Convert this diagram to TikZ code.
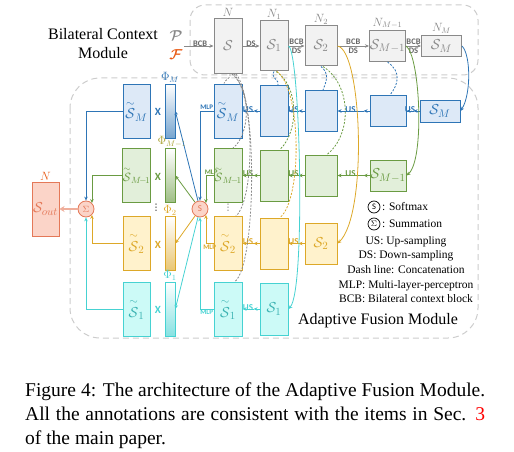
\documentclass[tikz,border=0pt]{standalone}
\usepackage{amsmath, amssymb}
\usepackage{fontspec}
\setmainfont{Liberation Serif}
\newfontfamily\lblfont{Carlito}
\newfontfamily\symfont{DejaVu Sans}
\usepackage{xcolor}
\usepackage{tikz}
\usetikzlibrary{positioning, arrows.meta, calc}
\definecolor{afblue}{RGB}{46,117,182}
\definecolor{afbluefill}{RGB}{221,233,247}
\definecolor{afgreen}{RGB}{106,155,66}
\definecolor{afgreenfill}{RGB}{226,239,218}
\definecolor{afyellow}{RGB}{221,168,40}
\definecolor{afyellowfill}{RGB}{255,242,204}
\definecolor{afcyan}{RGB}{70,210,210}
\definecolor{afcyanfill}{RGB}{204,250,247}
\definecolor{afgray}{RGB}{137,137,137}
\definecolor{afgrayfill}{RGB}{242,242,242}
\definecolor{afsalmon}{RGB}{228,120,88}
\definecolor{afsalmonfill}{RGB}{251,212,200}
\definecolor{aforange}{RGB}{232,90,20}
\newcommand{\tS}{\overset{\scriptstyle\sim}{\mathcal{S}}}
\tikzset{
  blk/.style={draw, line width=1pt, inner sep=0pt, font=\fontsize{15}{15}\selectfont},
  kbox/.style={blk, draw=afgray, fill=afgrayfill, text=afgray},
  bbox/.style={blk, draw=afblue, fill=afbluefill, text=afblue},
  gbox/.style={blk, draw=afgreen, fill=afgreenfill, text=afgreen},
  ybox/.style={blk, draw=afyellow, fill=afyellowfill, text=afyellow},
  cbox/.style={blk, draw=afcyan, fill=afcyanfill, text=afcyan!85!black},
  sbox/.style={blk, draw=afsalmon, fill=afsalmonfill, text=afsalmon},
  small/.style={font=\fontsize{12.5}{12.5}\selectfont},
  phibar/.style={draw=#1, line width=0.6pt, top color=white, bottom color=#1!65,
    minimum width=10, minimum height=54, inner sep=0pt},
  op/.style={circle, draw=afsalmon, fill=afsalmonfill, line width=0.8pt, minimum size=16,
    inner sep=0pt, text=afsalmon, font=\lblfont\fontsize{9}{9}\selectfont},
  legop/.style={circle, draw=black, line width=0.7pt, minimum size=12, inner sep=0pt,
    font=\lblfont\fontsize{8.5}{8.5}\selectfont},
  tag/.style={font=\lblfont\bfseries\fontsize{9}{9}\selectfont, inner sep=0.5pt},
  ttag/.style={tag, font=\lblfont\bfseries\fontsize{8.5}{8.5}\selectfont, text=black!60},
  mlp/.style={font=\lblfont\bfseries\fontsize{7}{7}\selectfont, inner sep=1pt},
  xlab/.style={font=\lblfont\bfseries\fontsize{11}{11}\selectfont, inner sep=0pt},
  nlab/.style={text=afgray, font=\fontsize{12}{12}\selectfont, inner sep=1pt},
  philab/.style={font=\fontsize{11.5}{11.5}\selectfont, inner sep=1pt},
  vdot/.style={inner sep=0pt, font=\symfont\fontsize{9}{9}\selectfont},
  legtxt/.style={font=\fontsize{11.5}{14.7}\selectfont, inner sep=0pt},
  conn/.style={line width=0.8pt, -{Stealth[length=4pt, width=3.5pt]}},
  cat/.style={line width=0.8pt, dash pattern=on 2pt off 1.5pt},
  frame/.style={draw=black!20, line width=1pt, dash pattern=on 6pt off 4pt},
}
\begin{document}
\begin{tikzpicture}[x=1pt, y=-1pt]
\useasboundingbox (0,0) rectangle (514,452);

% module frames
\draw[frame, rounded corners=15] (190,5) rectangle (478,75);
\draw[frame, rounded corners=30] (70,78) rectangle (478,338);

\node[align=center, font=\fontsize{16}{19}\selectfont] (bcmtitle) at (103,44) {Bilateral Context\\Module};
\node[text=afgray, font=\fontsize{15}{15}\selectfont] (pin) at (176,36) {$\boldsymbol{\mathcal{P}}$};
\node[text=aforange, font=\fontsize{15}{15}\selectfont] (fin) at (176,55) {$\boldsymbol{\mathcal{F}}$};
\coordinate (pfin) at (184,46);

% bilateral context module
\node[kbox, minimum width=28, minimum height=55, label={[nlab]above:$N$}] (bcN) at (228,46) {$\mathcal{S}$};
\node[kbox, minimum width=28, minimum height=50, label={[nlab]above:$N_1$}] (bcOne) at (274,46) {$\mathcal{S}_1$};
\node[kbox, minimum width=32, minimum height=40, label={[nlab]above:$N_2$}] (bcTwo) at (321,46) {$\mathcal{S}_2$};
\node[kbox, minimum width=36, minimum height=31, label={[nlab]above:$N_{M-1}$}] (bcMm) at (387.5,46) {$\mathcal{S}_{M-1}$};
\node[kbox, minimum width=40, minimum height=21, label={[nlab]above:$N_M$}] (bcM) at (441.5,46) {$\mathcal{S}_M$};

\draw[conn, afgray] (pfin) -- node[ttag, above=-1pt, pos=0.55]{BCB} (bcN);
\draw[conn, afgray] (bcN) -- node[ttag, above=-1pt]{DS} (bcOne);
\draw[conn, afgray] (bcOne) -- node[ttag, above=1pt]{BCB} node[ttag, below=1.5pt]{DS} (bcTwo);
\draw[conn, afgray] (bcTwo) -- node[ttag, above=1pt]{BCB} node[ttag, below=1.5pt]{DS} (bcMm);
\draw[conn, afgray] (bcMm) -- node[ttag, above=1pt]{BCB} node[ttag, below=1.5pt]{DS} (bcM);

% weighted features
\node[bbox, minimum width=27, minimum height=54] (wtM) at (136.5,111) {${\tS}_M$};
\node[gbox, small, minimum width=27, minimum height=54] (wtMm) at (136.5,175.5) {${\tS}_{M\!-\!1}$};
\node[ybox, minimum width=27, minimum height=54] (wtTwo) at (136.5,243.5) {${\tS}_2$};
\node[cbox, minimum width=27, minimum height=54] (wtOne) at (136.5,309) {${\tS}_1$};

\node[xlab, text=afblue] (xM) at (158,112) {X};
\node[xlab, text=afgreen] (xMm) at (158,177) {X};
\node[xlab, text=afyellow] (xTwo) at (158,245) {X};
\node[xlab, text=afcyan] (xOne) at (158,310) {X};
\node[vdot] (vdA) at (156,208) {⋮};

\node[phibar=afblue, label={[philab, text=afblue]above:$\Phi_M$}] (phiM) at (170,111) {};
\node[phibar=afgreen, label={[philab, text=afgreen!45!afyellow, xshift=2]above:$\Phi_{M-1}$}] (phiMm) at (170,175.5) {};
\node[phibar=afyellow, label={[philab, text=afyellow]above:$\Phi_2$}] (phiTwo) at (170,243.5) {};
\node[phibar=afcyan, label={[philab, text=afcyan]above:$\Phi_1$}] (phiOne) at (170,309) {};

% mlp features
\node[bbox, minimum width=28, minimum height=54] (stM) at (228,111) {${\tS}_M$};
\node[gbox, small, minimum width=28, minimum height=54] (stMm) at (228,175.5) {${\tS}_{M\!-\!1}$};
\node[ybox, minimum width=28, minimum height=54] (stTwo) at (228,243.5) {${\tS}_2$};
\node[cbox, minimum width=28, minimum height=54] (stOne) at (228,309) {${\tS}_1$};
\node[vdot, text=black!60] (vdB) at (228,208) {⋮};

% up-sampling chains
\node[bbox, minimum width=28, minimum height=51] (upM2) at (274,111) {};
\node[bbox, minimum width=32, minimum height=41] (upM3) at (321,111) {};
\node[bbox, minimum width=36, minimum height=31] (upM4) at (388,111) {};
\node[bbox, minimum width=40, minimum height=22] (upM5) at (440,111) {$\mathcal{S}_M$};
\node[gbox, minimum width=28, minimum height=51] (upMm2) at (274,175.5) {};
\node[gbox, minimum width=32, minimum height=41] (upMm3) at (321,175.5) {};
\node[gbox, minimum width=36, minimum height=31] (upMm4) at (388,175.5) {$\mathcal{S}_{M-1}$};
\node[ybox, minimum width=28, minimum height=51] (upTwo2) at (274,243.5) {};
\node[ybox, minimum width=32, minimum height=41] (upTwo3) at (321,243.5) {$\mathcal{S}_2$};
\node[cbox, minimum width=28, minimum height=52] (upOne2) at (274,309) {$\mathcal{S}_1$};

% fusion
\node[op] (soft) at (200,209) {S};
\node[op] (sigma) at (86,209) {$\Sigma$};
\node[sbox, minimum width=27, minimum height=54, label={[nlab, text=aforange]above:$N$}] (sout) at (45.5,209) {$\mathcal{S}_{out}$};

\draw[conn, afblue] (upM5.west) -- ([xshift=-6]upM5.west);
\draw[conn, afblue] ([xshift=-6]upM5.west) -- node[tag, above=-2pt]{US} (upM4.east);
\draw[conn, afblue] (upM4.west) -- ([xshift=-6]upM4.west);
\draw[conn, afblue] ([xshift=-6]upM4.west) -- node[tag, above=-2pt]{US} (upM3.east);
\draw[conn, afblue] (upM3.west) -- ([xshift=-6]upM3.west);
\draw[conn, afblue] ([xshift=-6]upM3.west) -- node[tag, above=-2pt]{US} (upM2.east);
\draw[conn, afblue] (upM2.west) -- ([xshift=-6]upM2.west);
\draw[conn, afblue] ([xshift=-6]upM2.west) -- node[tag, above=-2pt]{US} (stM.east);
\draw[conn, afgreen] (upMm4.west) -- ([xshift=-6]upMm4.west);
\draw[conn, afgreen] ([xshift=-6]upMm4.west) -- node[tag, above=-2pt]{US} (upMm3.east);
\draw[conn, afgreen] (upMm3.west) -- ([xshift=-6]upMm3.west);
\draw[conn, afgreen] ([xshift=-6]upMm3.west) -- node[tag, above=-2pt]{US} (upMm2.east);
\draw[conn, afgreen] (upMm2.west) -- ([xshift=-6]upMm2.west);
\draw[conn, afgreen] ([xshift=-6]upMm2.west) -- node[tag, above=-2pt]{US} (stMm.east);
\draw[conn, afyellow] (upTwo3.west) -- ([xshift=-6]upTwo3.west);
\draw[conn, afyellow] ([xshift=-6]upTwo3.west) -- node[tag, above=-2pt]{US} (upTwo2.east);
\draw[conn, afyellow] (upTwo2.west) -- ([xshift=-6]upTwo2.west);
\draw[conn, afyellow] ([xshift=-6]upTwo2.west) -- node[tag, above=-2pt]{US} (stTwo.east);
\draw[conn, afcyan] (upOne2.west) -- ([xshift=-6]upOne2.west);
\draw[conn, afcyan] ([xshift=-6]upOne2.west) -- node[tag, above=-2pt]{US} (stOne.east);

% from the bilateral context module
\draw[conn, afblue] (bcM.east) .. controls (471,55) and (471,95) .. (upM5.east);
\draw[conn, afgreen] (bcMm.east) .. controls (420,55) and (425,160) .. (upMm4.east);
\draw[conn, afyellow] (bcTwo.east) .. controls (362,50) and (368,215) .. (upTwo3.east);
\draw[conn, afcyan] (bcOne.east) .. controls (300,50) and (306,290) .. (upOne2.east);

% concatenation
\draw[cat, afgray] ([xshift=2]bcN.south) .. controls (232,78) and (224,80) .. ([xshift=-4]stM.north);
\draw[cat, afgray] ([xshift=4]bcN.south) .. controls (252,90) and (250,135) .. ([xshift=5]stMm.north);
\draw[cat, afgray] ([xshift=6]bcN.south) .. controls (256,100) and (254,200) .. ([xshift=8]stTwo.north);
\draw[cat, afgray] ([xshift=8]bcN.south) .. controls (258,100) and (256,265) .. ([xshift=7]stOne.north);
\draw[cat, afblue] (bcOne.south) .. controls (270,78) and (280,80) .. ([xshift=4]upM2.north);
\draw[cat, afgreen] ([xshift=2]bcOne.south) .. controls (298,85) and (300,130) .. ([xshift=6]upMm2.north);
\draw[cat, afyellow] ([xshift=3]bcOne.south) .. controls (302,90) and (302,200) .. ([xshift=6]upTwo2.north);
\draw[cat, afblue] (bcTwo.south) .. controls (330,74) and (326,82) .. ([xshift=2]upM3.north);
\draw[cat, afgreen] ([xshift=2]bcTwo.south) .. controls (352,85) and (352,135) .. ([xshift=6]upMm3.north);
\draw[cat, afblue] (bcMm.south) .. controls (402,72) and (398,85) .. ([xshift=2]upM4.north);

% mlp, softmax and summation
\draw[conn, afblue] (stM.west) -| node[mlp, pos=0.25, above]{MLP} (soft.north);
\draw[conn, afgreen] (stMm.west) -| node[mlp, pos=0.15, above]{MLP} (soft.north east);
\draw[conn, afyellow] (stTwo.west) -| node[mlp, pos=0.25, below]{MLP} (soft.south east);
\draw[conn, afcyan] (stOne.west) -| node[mlp, pos=0.25, below]{MLP} (soft.south);
\draw[conn, afblue] (soft) -- (phiM.east);
\draw[conn, afgreen] (soft) -- (phiMm.east);
\draw[conn, afyellow] (soft) -- (phiTwo.east);
\draw[conn, afcyan] (soft) -- (phiOne.east);
\draw[conn, afblue] (wtM.west) -| (sigma.north);
\draw[conn, afgreen] (wtMm.west) -| (sigma.north east);
\draw[conn, afyellow] (wtTwo.west) -| (sigma.south east);
\draw[conn, afcyan] (wtOne.west) -| (sigma.south);
\draw[line width=2pt, afsalmon!60, -{Stealth[length=5pt, width=6pt]}] (sigma) -- (sout);

% legend
\node[legop] (lgsoft) at (374,207) {S};
\node[legtxt, right=1.5pt of lgsoft] (lgsofttxt) {: Softmax};
\node[legop] (lgsum) at (374,224) {$\Sigma$};
\node[legtxt, right=1.5pt of lgsum] (lgsumtxt) {: Summation};
\node[legtxt, align=center] (legend) at (406,269.5) {US: Up-sampling\\DS: Down-sampling\\Dash line: Concatenation\\MLP: Multi-layer-perceptron\\BCB: Bilateral context block};
\node[font=\fontsize{16}{16}\selectfont] (afmtitle) at (378,321) {Adaptive Fusion Module};

% caption
\node[anchor=base west, inner sep=0pt, font=\fontsize{19.5}{24}\selectfont] (capA) at (25,396) {\makebox[460pt][s]{Figure 4: The architecture of the Adaptive Fusion Module.}};
\node[anchor=base west, inner sep=0pt, font=\fontsize{19.5}{24}\selectfont] (capB) at (25,420) {\makebox[460pt][s]{All the annotations are consistent with the items in Sec. \textcolor{red}{3}}};
\node[anchor=base west, inner sep=0pt, font=\fontsize{19.5}{24}\selectfont] (capC) at (25,444) {of the main paper.};

\end{tikzpicture}
\end{document}
